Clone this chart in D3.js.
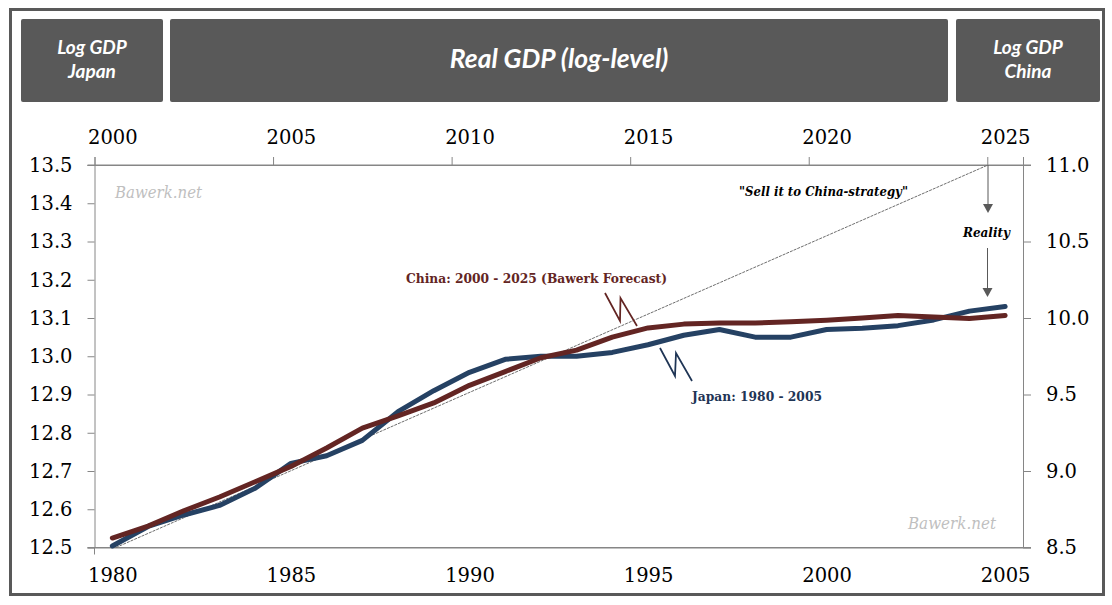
<!DOCTYPE html>
<html>
<head>
<meta charset="utf-8">
<script src="https://cdn.jsdelivr.net/npm/d3@7"></script>
<style>
  body { margin: 0; background: #fff; }
  svg { display: block; }
  .axis path, .axis line { stroke: #868686; }
  .axis text { font-family: "DejaVu Serif", serif; font-size: 19.5px; fill: #000; }
  .head { font-family: Lato, "Open Sans", sans-serif; font-weight: 700; font-style: italic; fill: #fff; text-anchor: middle; }
  .note { font-family: "DejaVu Serif", serif; font-weight: 700; }
  .mark { font-family: "DejaVu Serif", serif; font-style: italic; font-size: 17px; fill: #bfbfbf; }
</style>
</head>
<body>
<svg id="chart" width="1112" height="605"></svg>
<script>
const width = 1112;
const height = 605;

// one value per year
const japanYears = d3.range(1980, 2006);
const chinaYears = d3.range(2000, 2026);
const japanGdp = [12.504, 12.555, 12.585, 12.61, 12.655, 12.72, 12.74, 12.78, 12.855, 12.91,
  12.958, 12.992, 13.0, 13.0, 13.01, 13.03, 13.055, 13.07, 13.05, 13.05,
  13.07, 13.073, 13.08, 13.095, 13.118, 13.13];
const chinaGdp = [8.562, 8.64, 8.74, 8.83, 8.93, 9.03, 9.15, 9.28, 9.36, 9.445,
  9.56, 9.65, 9.74, 9.79, 9.875, 9.935, 9.96, 9.967, 9.967, 9.975,
  9.985, 10.0, 10.017, 10.007, 9.997, 10.017];

const bottomTicks = [1980, 1985, 1990, 1995, 2000, 2005];
const topTicks = [2000, 2005, 2010, 2015, 2020, 2025];
const leftTicks = d3.range(12.5, 13.55, 0.1);
const rightTicks = [8.5, 9.0, 9.5, 10.0, 10.5, 11.0];

// the dashed "sell it to China" straight line, on japan x and left y
const strategyYears = [1980.6, 2005.02];
const strategyGdp = [12.5, 13.5];

const plot = { left: 94.5, right: 1023, top: 165, bottom: 547.5 };

// categories sit between the tick marks, so points are at year + 0.5
const xJapan = d3.scaleLinear().domain([1980, 2006]).range([plot.left, plot.right]);
const xChina = d3.scaleLinear().domain([2000, 2026]).range([plot.left, plot.right]);
const yLeft = d3.scaleLinear().domain([12.5, 13.5]).range([plot.bottom, plot.top]);
const yRight = d3.scaleLinear().domain([8.5, 11]).range([plot.bottom, plot.top]);
const halfYear = (plot.right - plot.left) / 26 / 2;

const svg = d3.select('#chart');

// outer frame
svg.append('rect')
  .attr('x', 10.5).attr('y', 9.5)
  .attr('width', 1093).attr('height', 585)
  .attr('fill', 'none')
  .attr('stroke', '#595959')
  .attr('stroke-width', 3);

// header boxes
const boxes = [
  { x: 21, w: 142, lines: ['Log GDP', 'Japan'] },
  { x: 170, w: 778, lines: ['Real GDP (log-level)'] },
  { x: 956, w: 144, lines: ['Log GDP', 'China'] }
];
boxes.forEach(b => {
  svg.append('rect')
    .attr('x', b.x).attr('y', 19)
    .attr('width', b.w).attr('height', 83)
    .attr('rx', 2)
    .attr('fill', '#595959');
  if (b.lines.length == 1) {
    svg.append('text').attr('class', 'head')
      .attr('x', b.x + b.w / 2).attr('y', 68)
      .style('font-size', '26.5px')
      .text(b.lines[0]);
  } else {
    b.lines.forEach((t, i) => {
      svg.append('text').attr('class', 'head')
        .attr('x', b.x + b.w / 2).attr('y', 54 + i * 24)
        .style('font-size', '19px')
        .text(t);
    });
  }
});

// axes
const axisBottom = d3.axisBottom(xJapan).tickValues(bottomTicks).tickFormat(d3.format('d')).tickSize(0).tickPadding(21);
const axisTop = d3.axisTop(xChina).tickValues(topTicks).tickFormat(d3.format('d')).tickSize(8).tickPadding(13);
const axisLeft = d3.axisLeft(yLeft).tickValues(leftTicks).tickFormat(d3.format('.1f')).tickSize(7).tickPadding(15);
const axisRight = d3.axisRight(yRight).tickValues(rightTicks).tickFormat(d3.format('.1f')).tickSize(8).tickPadding(15);

const gBottom = svg.append('g').attr('class', 'axis').attr('transform', `translate(0,${plot.bottom})`).call(axisBottom);
const gTop = svg.append('g').attr('class', 'axis').attr('transform', `translate(0,${plot.top})`).call(axisTop);
svg.append('g').attr('class', 'axis').attr('transform', `translate(${plot.left},0)`).call(axisLeft);
svg.append('g').attr('class', 'axis').attr('transform', `translate(${plot.right},0)`).call(axisRight);

// labels are centred on the category, not on the tick
gBottom.selectAll('text').attr('dx', halfYear);
gTop.selectAll('text').attr('dx', halfYear);

// little stub under the first category, and the axis lines run out to the tick ends
svg.append('line').attr('x1', plot.left).attr('x2', plot.left).attr('y1', plot.bottom).attr('y2', plot.bottom + 7).attr('stroke', '#868686');
[plot.top, plot.bottom].forEach(y => {
  svg.append('line').attr('x1', plot.left - 7).attr('x2', plot.right + 8).attr('y1', y).attr('y2', y).attr('stroke', '#868686');
});

// dashed line
svg.append('path')
  .attr('d', d3.line().x((d, i) => xJapan(d)).y((d, i) => yLeft(strategyGdp[i]))(strategyYears))
  .attr('fill', 'none')
  .attr('stroke', '#6e6e6e')
  .attr('stroke-width', 1)
  .attr('stroke-dasharray', '3 1');

// series
const japanLine = d3.line().x((d, i) => xJapan(japanYears[i] + 0.5)).y(d => yLeft(d));
const chinaLine = d3.line().x((d, i) => xChina(chinaYears[i] + 0.5)).y(d => yRight(d));

svg.append('path').attr('d', japanLine(japanGdp))
  .attr('fill', 'none').attr('stroke', '#254163').attr('stroke-width', 5)
  .attr('stroke-linecap', 'round').attr('stroke-linejoin', 'round');
svg.append('path').attr('d', chinaLine(chinaGdp))
  .attr('fill', 'none').attr('stroke', '#632523').attr('stroke-width', 5)
  .attr('stroke-linecap', 'round').attr('stroke-linejoin', 'round');

// zigzag callouts
const zigzag = d3.line();
svg.append('path').attr('d', zigzag([[605, 293], [620, 321], [620.5, 298], [637, 326]]))
  .attr('fill', 'none').attr('stroke', '#632523').attr('stroke-width', 1.75);
svg.append('path').attr('d', zigzag([[660, 348], [675, 376], [676, 353], [692, 381]]))
  .attr('fill', 'none').attr('stroke', '#1f3555').attr('stroke-width', 1.75);

// reality arrows
function arrow(x, y0, y1) {
  svg.append('line').attr('x1', x).attr('x2', x).attr('y1', y0).attr('y2', y1 - 8)
    .attr('stroke', '#595959').attr('stroke-width', 1);
  svg.append('path').attr('d', d3.line()([[x - 5, y1 - 9], [x + 5, y1 - 9], [x, y1]]))
    .attr('fill', '#595959');
}
arrow(988, 165, 213);
arrow(987.5, 248, 297);

// annotations
function note(txt, x, y, len, size, color, italic) {
  svg.append('text').attr('class', 'note')
    .attr('x', x).attr('y', y)
    .attr('textLength', len).attr('lengthAdjust', 'spacingAndGlyphs')
    .style('font-size', size + 'px')
    .style('font-style', italic ? 'italic' : 'normal')
    .attr('fill', color)
    .text(txt);
}
note('China: 2000 - 2025 (Bawerk Forecast)', 406, 283, 261, 13.5, '#632523', false);
note('Japan: 1980 - 2005', 692, 401, 130, 13.5, '#1f3555', false);
note('"Sell it to China-strategy"', 739, 196, 169, 13, '#000', true);
note('Reality', 963, 237, 47, 13, '#000', true);

svg.append('text').attr('class', 'mark').attr('x', 115).attr('y', 198).attr('textLength', 87).attr('lengthAdjust', 'spacingAndGlyphs').text('Bawerk.net');
svg.append('text').attr('class', 'mark').attr('x', 908).attr('y', 529).attr('textLength', 88).attr('lengthAdjust', 'spacingAndGlyphs').text('Bawerk.net');
</script>
</body>
</html>
